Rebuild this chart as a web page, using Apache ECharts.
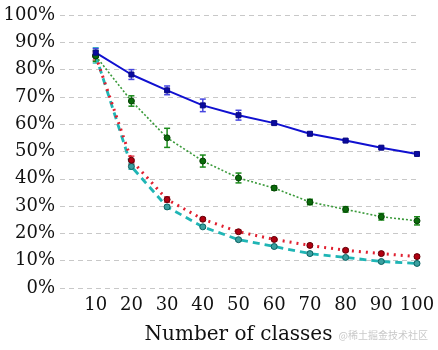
<!DOCTYPE html>
<html>
<head>
<meta charset="utf-8">
<script src="https://cdn.jsdelivr.net/npm/echarts@6/dist/echarts.min.js"></script>
<style>
  html, body { margin: 0; padding: 0; background: #fff; }
  #chart { width: 438px; height: 350px; }
</style>
</head>
<body>
<div id="chart"></div>
<script>
const classes = [10, 20, 30, 40, 50, 60, 70, 80, 90, 100];

const blueValues = [86.2, 78.2, 72.4, 66.9, 63.3, 60.4, 56.5, 54.0, 51.4, 49.1];
const blueErrors = [1.5, 1.8, 1.6, 2.3, 1.8, 0.5, 0.6, 0.5, 0.5, 0.4];

const greenValues = [85.0, 68.5, 55.0, 46.5, 40.3, 36.6, 31.5, 28.8, 26.1, 24.6];
const greenErrors = [2.0, 1.9, 3.5, 2.2, 1.8, 0.8, 1.0, 1.0, 1.2, 1.5];

const redValues = [85.0, 46.8, 32.4, 25.2, 20.6, 17.8, 15.6, 13.8, 12.6, 11.5];
const redErrors = [1.5, 1.5, 1.0, 0.6, 0.6, 0.5, 0.5, 0.5, 0.5, 0.6];

const cyanValues = [85.2, 44.5, 29.7, 22.4, 17.7, 15.2, 12.6, 11.2, 9.7, 9.0];
const cyanErrors = [2.8, 1.0, 0.6, 0.5, 0.5, 0.5, 0.5, 0.5, 0.5, 0.5];

const yTicks = [0, 10, 20, 30, 40, 50, 60, 70, 80, 90, 100];

const serifFont = "DejaVu Serif";

function pairs(values) {
  return values.map((v, i) => [classes[i], v]);
}

function errorSeries(values, errors, color) {
  return {
    type: "custom",
    silent: true,
    z: 1,
    data: values.map((v, i) => [classes[i], v - errors[i], v + errors[i]]),
    renderItem(params, api) {
      const low = api.coord([api.value(0), api.value(1)]);
      const high = api.coord([api.value(0), api.value(2)]);
      const half = 3;
      const style = { stroke: color, lineWidth: 1.5 };
      return {
        type: "group",
        children: [
          { type: "line", shape: { x1: low[0], y1: low[1], x2: high[0], y2: high[1] }, style },
          { type: "line", shape: { x1: low[0] - half, y1: low[1], x2: low[0] + half, y2: low[1] }, style },
          { type: "line", shape: { x1: high[0] - half, y1: high[1], x2: high[0] + half, y2: high[1] }, style },
        ],
      };
    },
  };
}

function lineSeries(values, color, fill, border, type, width, symbol, size) {
  return {
    type: "line",
    z: 2,
    data: pairs(values),
    symbol: symbol,
    symbolSize: size,
    lineStyle: { color: color, width: width, type: type },
    itemStyle: { color: fill, borderColor: border, borderWidth: 1 },
    emphasis: { disabled: true },
  };
}

const chart = echarts.init(document.getElementById("chart"));
chart.setOption({
  animation: false,
  grid: { left: 60, right: 21, top: 15, bottom: 60 },
  xAxis: {
    type: "value",
    min: 0,
    max: 100,
    interval: 10,
    name: "Number of classes",
    nameLocation: "middle",
    nameGap: 37,
    nameTextStyle: { fontFamily: serifFont, fontSize: 20, color: "#111" },
    axisLine: { show: false },
    axisTick: { show: false },
    splitLine: { show: false },
    axisLabel: {
      fontFamily: serifFont,
      fontSize: 18,
      color: "#111",
      margin: 8,
      formatter: (v) => (v === 0 ? "" : String(v)),
    },
  },
  yAxis: {
    type: "value",
    min: yTicks[0],
    max: yTicks[yTicks.length - 1],
    interval: 10,
    axisLine: { show: false },
    axisTick: { show: false },
    axisLabel: {
      fontFamily: serifFont,
      fontSize: 18,
      color: "#111",
      margin: 5,
      formatter: (v) => v + "%",
    },
    splitLine: { lineStyle: { color: "#c8c8c8", type: [5, 4], width: 1 } },
  },
  graphic: [
    {
      type: "text",
      right: 10,
      bottom: 10,
      style: { text: "@稀土掘金技术社区", fill: "#c9c9c9", font: '10px "Noto Sans CJK SC"' },
    },
  ],
  series: [
    errorSeries(cyanValues, cyanErrors, "#3cc0c0"),
    errorSeries(redValues, redErrors, "#e04050"),
    errorSeries(greenValues, greenErrors, "#1a8a1a"),
    errorSeries(blueValues, blueErrors, "#4646e0"),
    lineSeries(cyanValues, "#1fb5b5", "#3aa0a0", "#0a5f5f", [7, 5], 2.8, "circle", 6),
    lineSeries(redValues, "#e02030", "#b00010", "#600008", [2, 5], 3, "circle", 6),
    lineSeries(greenValues, "#3a9a3a", "#0a6a0a", "#044004", [2, 2], 1.6, "circle", 6),
    lineSeries(blueValues, "#1010d0", "#0a0aa0", "#0a0a80", "solid", 2, "rect", 5),
  ],
});
</script>
</body>
</html>
